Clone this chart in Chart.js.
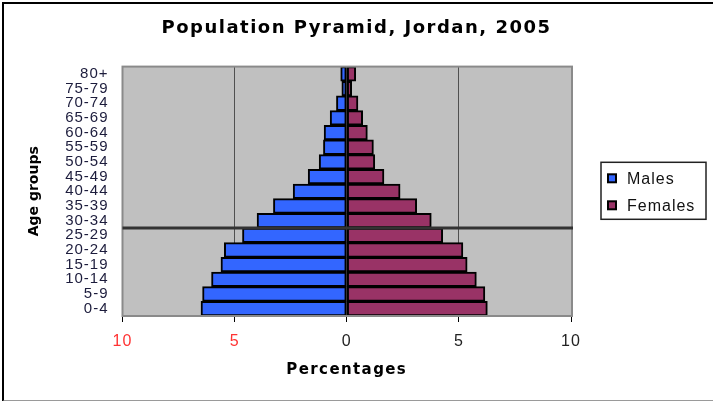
<!DOCTYPE html>
<html>
<head>
  <meta charset="utf-8">
  <title>Population Pyramid, Jordan, 2005</title>
  <script src="https://cdn.jsdelivr.net/npm/chart.js@4"></script>
  <style>
    html, body {
      margin: 0;
      padding: 0;
      background: #fff;
    }
    .wrap {
      position: relative;
      width: 713px;
      height: 401px;
    }
    .frame {
      position: absolute;
      left: 2px;
      top: 2px;
      width: 720px;
      height: 396px;
      border-top: 2px solid #000;
      border-left: 2px solid #000;
      border-bottom: 2px solid #9a9a9a;
      pointer-events: none;
    }
  </style>
</head>
<body>
  <div class="wrap">
    <canvas id="pyramid" width="713" height="401"></canvas>
    <div class="frame"></div>
  </div>

  <script>
    // Age groups, youngest first (drawn bottom to top)
    const ageGroups = ['0-4', '5-9', '10-14', '15-19', '20-24', '25-29', '30-34', '35-39',
      '40-44', '45-49', '50-54', '55-59', '60-64', '65-69', '70-74', '75-79', '80+'];

    // Share of total population, %
    const males = [6.5, 6.43, 6.03, 5.61, 5.46, 4.65, 4.0, 3.27, 2.39, 1.72, 1.23, 1.04, 1.01, 0.74, 0.46, 0.22, 0.27];
    const females = [6.27, 6.16, 5.78, 5.37, 5.18, 4.28, 3.77, 3.12, 2.38, 1.66, 1.25, 1.19, 0.92, 0.71, 0.5, 0.22, 0.4];

    const xTicks = [-10, -5, 0, 5, 10];

    // the heavy rule across the plot sits just below this group
    const dividerAbove = '30-34';

    const FONT = "'Liberation Sans', Arial, sans-serif";
    const BOLD = "'DejaVu Sans', 'Liberation Sans', sans-serif";

    // wrap a draw method: letter spacing + optional horizontal shift
    function spaced(obj, fn, sp, dx) {
      if (!obj || obj['_sp_' + fn]) return;
      const orig = obj[fn];
      obj[fn] = function (...args) {
        const ctx = this.ctx;
        ctx.save();
        ctx.letterSpacing = sp;
        if (dx) ctx.translate(dx(this), 0);
        orig.apply(this, args);
        ctx.restore();
      };
      obj['_sp_' + fn] = true;
    }

    const plotFrame = {
      id: 'plotFrame',
      afterLayout(chart) {
        // main title is centred on the whole picture, not the plot
        spaced(chart.titleBlock, 'draw', '1.5px', t => chart.width / 2 - (t.left + t.right) / 2);
        spaced(chart.scales.x, 'drawTitle', '1.4px');
        spaced(chart.scales.x, 'drawLabels', '1px');
        spaced(chart.scales.y, 'drawLabels', '1px');
      },
      beforeDraw(chart) {
        const { ctx, chartArea: a } = chart;
        ctx.save();
        ctx.fillStyle = '#c0c0c0';
        ctx.fillRect(a.left, a.top, a.right - a.left, a.bottom - a.top);
        ctx.restore();
      },
      afterDatasetsDraw(chart) {
        const { ctx, chartArea: a } = chart;
        const y = chart.scales.y;
        ctx.save();
        ctx.strokeStyle = '#8a8a8a';
        ctx.lineWidth = 2;
        ctx.strokeRect(a.left, a.top, a.right - a.left + 1, a.bottom - a.top);

        // heavy divider line between two age groups
        const i = ageGroups.indexOf(dividerAbove);
        const yy = (y.getPixelForValue(i) + y.getPixelForValue(i - 1)) / 2;
        ctx.strokeStyle = '#333';
        ctx.lineWidth = 3;
        ctx.beginPath();
        ctx.moveTo(a.left, yy);
        ctx.lineTo(a.right + 2, yy);
        ctx.stroke();
        ctx.restore();
      }
    };

    // boxed legend to the right of the plot
    const boxLegend = {
      id: 'boxLegend',
      afterDraw(chart) {
        const { ctx, chartArea: a } = chart;
        const left = a.right + 30;
        const top = (a.top + a.bottom) / 2 - 29;
        const w = 105, h = 57;
        ctx.save();
        ctx.fillStyle = '#fff';
        ctx.fillRect(left, top, w, h);
        ctx.strokeStyle = '#222';
        ctx.lineWidth = 1.5;
        ctx.strokeRect(left, top, w, h);

        ctx.font = '16px ' + FONT;
        ctx.letterSpacing = '1px';
        ctx.textBaseline = 'middle';
        chart.data.datasets.forEach((ds, k) => {
          const cy = top + 16 + k * 27;
          ctx.fillStyle = ds.backgroundColor;
          ctx.fillRect(left + 7, cy - 4, 8, 8);
          ctx.strokeStyle = '#000';
          ctx.lineWidth = 2;
          ctx.strokeRect(left + 7, cy - 4, 8, 8);
          ctx.fillStyle = '#111';
          ctx.fillText(ds.label, left + 26, cy + 1);
        });
        ctx.restore();
      }
    };

    const ctx = document.getElementById('pyramid').getContext('2d');
    new Chart(ctx, {
      type: 'bar',
      data: {
        labels: ageGroups,
        datasets: [
          {
            label: 'Males',
            data: males.map(v => -v),
            backgroundColor: '#3366ff',
            borderColor: '#000',
            borderWidth: 2,
            borderSkipped: false,
            barPercentage: 1,
            categoryPercentage: 1
          },
          {
            label: 'Females',
            data: females,
            backgroundColor: '#993366',
            borderColor: '#000',
            borderWidth: 2,
            borderSkipped: false,
            barPercentage: 1,
            categoryPercentage: 1
          }
        ]
      },
      plugins: [plotFrame, boxLegend],
      options: {
        indexAxis: 'y',
        responsive: false,
        animation: false,
        layout: {
          padding: { top: 0, left: 26, right: 142, bottom: 4 }
        },
        plugins: {
          legend: { display: false },
          tooltip: { enabled: false },
          title: {
            display: true,
            text: 'Population Pyramid, Jordan, 2005',
            color: '#000',
            font: { family: BOLD, size: 18, weight: 'bold', lineHeight: 1.2 },
            padding: { top: 18, bottom: 27 }
          }
        },
        scales: {
          x: {
            type: 'linear',
            stacked: true,
            min: -10,
            max: 10,
            afterBuildTicks: scale => {
              scale.ticks = xTicks.map(v => ({ value: v }));
            },
            afterFit: scale => { scale.height = 81; },
            grid: {
              color: c => Math.abs(c.tick.value) === 10 ? 'rgba(0,0,0,0)' : '#505050',
              lineWidth: 1,
              drawTicks: true,
              tickLength: 6,
              tickColor: '#000'
            },
            border: { display: false },
            ticks: {
              padding: 10,
              color: c => c.tick.value < 0 ? '#ff3333' : '#222',
              font: { family: FONT, size: 16 },
              callback: v => Math.abs(v)
            },
            title: {
              display: true,
              text: 'Percentages',
              color: '#000',
              font: { family: BOLD, size: 15, weight: 'bold', lineHeight: 1.2 },
              padding: { top: 0, bottom: 18 }
            }
          },
          y: {
            stacked: true,
            reverse: true,
            afterFit: scale => { scale.width = 96.5; },
            grid: { display: false, drawTicks: false },
            border: { display: false },
            ticks: {
              padding: 14,
              autoSkip: false,
              color: '#1c1c3c',
              font: { family: FONT, size: 15 }
            },
            title: {
              display: true,
              text: 'Age groups',
              color: '#000',
              font: { family: BOLD, size: 14, weight: 'bold', lineHeight: 1.2 },
              padding: 0
            }
          }
        }
      }
    });
  </script>
</body>
</html>
